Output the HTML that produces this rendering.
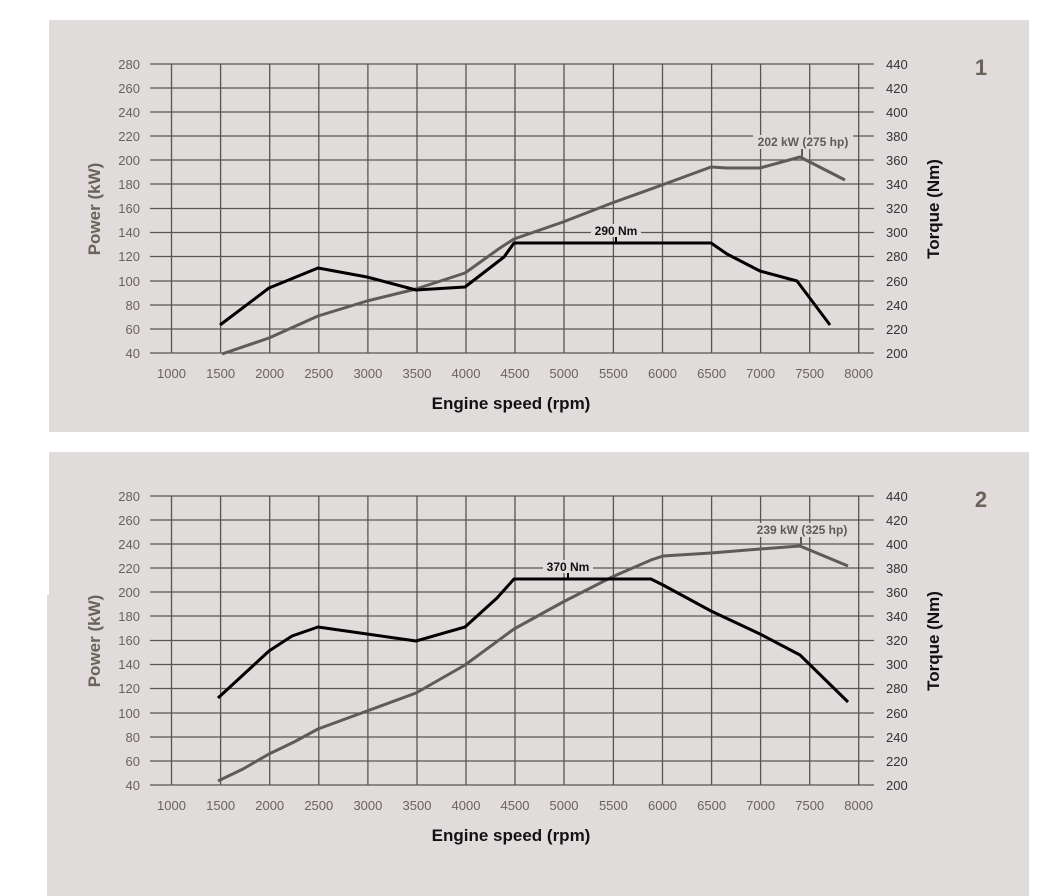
<!DOCTYPE html>
<html><head><style>
body{margin:0;background:#fff;width:1046px;height:896px;overflow:hidden}
svg{position:absolute;left:0;top:0}
text{font-family:"Liberation Sans",sans-serif}
.l{font-size:13px;fill:#6b625a;text-anchor:end}
.r{font-size:13px;fill:#333;text-anchor:start}
.x{font-size:13px;fill:#6b625a;text-anchor:middle}
.t{font-size:17px;font-weight:bold;font-family:"Liberation Sans Narrow","Liberation Sans",sans-serif}
</style></head><body>
<svg width="1046" height="896" xmlns="http://www.w3.org/2000/svg">
<rect x="49" y="20" width="980" height="412" fill="#e0dcdb"/>
<rect x="47" y="452" width="982" height="444" fill="#e0dcdb"/>
<rect x="47" y="452" width="2" height="143" fill="#fff"/>
<g id="g1" stroke="#5a5552" stroke-width="1.3" fill="none">
<path d="M150 64H874M150 88H874M150 112H874M150 136H874M150 160H874M150 184H874M150 208.5H874M150 232.5H874M150 256.5H874M150 281H874M150 305H874M150 329H874M150 353H874"/>
<path d="M171.5 64V353M220.6 64V353M269.7 64V353M318.8 64V353M367.9 64V353M417 64V353M466 64V353M515 64V353M564 64V353M613.4 64V353M662.5 64V353M711.6 64V353M760.6 64V353M809.7 64V353M858.7 64V353"/>
</g>
<use href="#g1" y="432"/>
<g id="lab1">
<text class="l" x="140" y="69">280</text><text class="l" x="140" y="93">260</text><text class="l" x="140" y="117">240</text><text class="l" x="140" y="141">220</text><text class="l" x="140" y="165">200</text><text class="l" x="140" y="189">180</text><text class="l" x="140" y="213">160</text><text class="l" x="140" y="237">140</text><text class="l" x="140" y="261">120</text><text class="l" x="140" y="286">100</text><text class="l" x="140" y="310">80</text><text class="l" x="140" y="334">60</text><text class="l" x="140" y="358">40</text>
<text class="r" x="886" y="69">440</text><text class="r" x="886" y="93">420</text><text class="r" x="886" y="117">400</text><text class="r" x="886" y="141">380</text><text class="r" x="886" y="165">360</text><text class="r" x="886" y="189">340</text><text class="r" x="886" y="213">320</text><text class="r" x="886" y="237">300</text><text class="r" x="886" y="261">280</text><text class="r" x="886" y="286">260</text><text class="r" x="886" y="310">240</text><text class="r" x="886" y="334">220</text><text class="r" x="886" y="358">200</text>
<text class="x" x="171.5" y="378">1000</text><text class="x" x="220.6" y="378">1500</text><text class="x" x="269.7" y="378">2000</text><text class="x" x="318.8" y="378">2500</text><text class="x" x="367.9" y="378">3000</text><text class="x" x="417" y="378">3500</text><text class="x" x="466" y="378">4000</text><text class="x" x="515" y="378">4500</text><text class="x" x="564" y="378">5000</text><text class="x" x="613.4" y="378">5500</text><text class="x" x="662.5" y="378">6000</text><text class="x" x="711.6" y="378">6500</text><text class="x" x="760.6" y="378">7000</text><text class="x" x="809.7" y="378">7500</text><text class="x" x="858.7" y="378">8000</text>
<text class="t" x="511" y="409" text-anchor="middle" fill="#111">Engine speed (rpm)</text>
<text class="t" transform="translate(100 209) rotate(-90)" text-anchor="middle" fill="#6b625a">Power (kW)</text>
<text class="t" transform="translate(939 209) rotate(-90)" text-anchor="middle" fill="#111">Torque (Nm)</text>
</g>
<use href="#lab1" y="432"/>
<text x="981" y="75" font-size="22" font-weight="bold" fill="#6b625a" text-anchor="middle">1</text>
<text x="981" y="507" font-size="22" font-weight="bold" fill="#6b625a" text-anchor="middle">2</text>
<g fill="none" stroke-width="3" stroke-linejoin="round">
<polyline stroke="#605b58" points="222,354 269,338 318,316 367,301 416,289 465,273 500,248 514,239 563,222 612,203 662,185 711,167 727,168 760,168 800,157 845,180"/>
<polyline stroke="#000" points="220,325 269,288 318,268 367,277 416,290 465,287 504,257 514,243 711,243 727,254 760,271 797,281 830,325"/>
<polyline stroke="#605b58" points="218,781 243,769 269,754 294,742 318,729 367,711 416,693 465,665 514,629 563,602 612,577 651,560 663,556 711,553 760,549 800,546 848,566"/>
<polyline stroke="#000" points="218,698 269,651 292,636 318,627 367,634 416,641 465,627 497,598 514,579 651,579 663,585 711,611 760,634 800,655 848,702"/>
</g>
<rect x="591" y="224" width="50" height="13" fill="#e0dcdb"/>
<text x="616" y="235" font-size="12" font-weight="bold" text-anchor="middle" fill="#111">290 Nm</text>
<path d="M616 237V243" stroke="#000" stroke-width="2"/>
<rect x="753" y="135" width="100" height="14" fill="#e0dcdb"/>
<text x="803" y="146" font-size="12" font-weight="bold" text-anchor="middle" fill="#605b58">202 kW (275 hp)</text>
<path d="M802 149V157" stroke="#605b58" stroke-width="2"/>
<rect x="543" y="560" width="50" height="13" fill="#e0dcdb"/>
<text x="568" y="571" font-size="12" font-weight="bold" text-anchor="middle" fill="#111">370 Nm</text>
<path d="M568 573V579" stroke="#000" stroke-width="2"/>
<rect x="750" y="523" width="104" height="14" fill="#e0dcdb"/>
<text x="802" y="534" font-size="12" font-weight="bold" text-anchor="middle" fill="#605b58">239 kW (325 hp)</text>
<path d="M801 537V546" stroke="#605b58" stroke-width="2"/>
</svg>
</body></html>
